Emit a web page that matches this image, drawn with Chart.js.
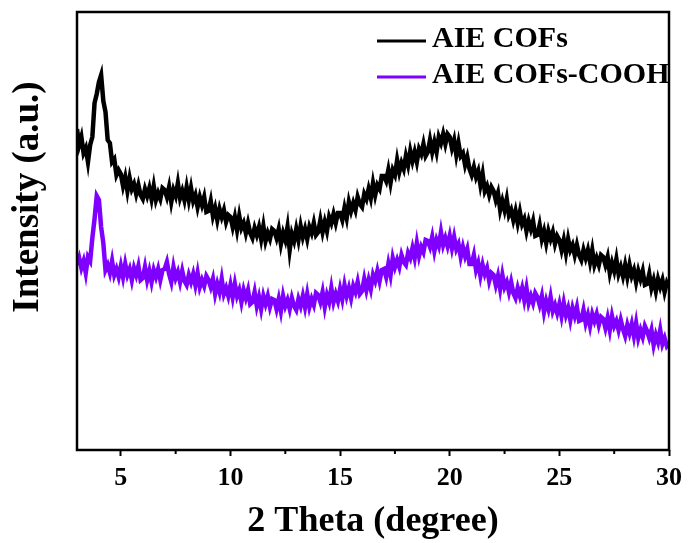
<!DOCTYPE html>
<html>
<head>
<meta charset="utf-8">
<script src="https://cdn.jsdelivr.net/npm/chart.js@4"></script>
<style>
  html, body { margin: 0; padding: 0; background: #ffffff; }
  #wrap { width: 689px; height: 543px; }
</style>
</head>
<body>
<div id="wrap"><canvas id="xrdChart" width="689" height="543"></canvas></div>
<script>
// 2θ 샘플 위치 (deg)
const twoTheta = [
  3.0,3.1,3.2,3.3,3.4,3.5,3.6,3.7,3.8,3.9,
  4.0,4.1,4.2,4.3,4.4,4.5,4.6,4.7,4.8,4.9,
  5.0,5.1,5.2,5.3,5.4,5.5,5.6,5.7,5.8,5.9,
  6.0,6.1,6.2,6.3,6.4,6.5,6.6,6.7,6.8,6.9,
  7.0,7.1,7.2,7.3,7.4,7.5,7.6,7.7,7.8,7.9,
  8.0,8.1,8.2,8.3,8.4,8.5,8.6,8.7,8.8,8.9,
  9.0,9.1,9.2,9.3,9.4,9.5,9.6,9.7,9.8,9.9,
  10.0,10.1,10.2,10.3,10.4,10.5,10.6,10.7,10.8,10.9,
  11.0,11.1,11.2,11.3,11.4,11.5,11.6,11.7,11.8,11.9,
  12.0,12.1,12.2,12.3,12.4,12.5,12.6,12.7,12.8,12.9,
  13.0,13.1,13.2,13.3,13.4,13.5,13.6,13.7,13.8,13.9,
  14.0,14.1,14.2,14.3,14.4,14.5,14.6,14.7,14.8,14.9,
  15.0,15.1,15.2,15.3,15.4,15.5,15.6,15.7,15.8,15.9,
  16.0,16.1,16.2,16.3,16.4,16.5,16.6,16.7,16.8,16.9,
  17.0,17.1,17.2,17.3,17.4,17.5,17.6,17.7,17.8,17.9,
  18.0,18.1,18.2,18.3,18.4,18.5,18.6,18.7,18.8,18.9,
  19.0,19.1,19.2,19.3,19.4,19.5,19.6,19.7,19.8,19.9,
  20.0,20.1,20.2,20.3,20.4,20.5,20.6,20.7,20.8,20.9,
  21.0,21.1,21.2,21.3,21.4,21.5,21.6,21.7,21.8,21.9,
  22.0,22.1,22.2,22.3,22.4,22.5,22.6,22.7,22.8,22.9,
  23.0,23.1,23.2,23.3,23.4,23.5,23.6,23.7,23.8,23.9,
  24.0,24.1,24.2,24.3,24.4,24.5,24.6,24.7,24.8,24.9,
  25.0,25.1,25.2,25.3,25.4,25.5,25.6,25.7,25.8,25.9,
  26.0,26.1,26.2,26.3,26.4,26.5,26.6,26.7,26.8,26.9,
  27.0,27.1,27.2,27.3,27.4,27.5,27.6,27.7,27.8,27.9,
  28.0,28.1,28.2,28.3,28.4,28.5,28.6,28.7,28.8,28.9,
  29.0,29.1,29.2,29.3,29.4,29.5,29.6,29.7,29.8,29.9,
  30.0
];

// AIE COFs 강도 (a.u.)
const aieCofs = [
  321,305,313,297,302,288,305,313,347,356,
  368,375,349,338,310,307,288,291,275,280,
  276,264,273,259,272,261,266,256,265,255,
  251,261,254,262,251,264,250,257,251,262,
  260,253,263,248,260,254,267,252,259,250,
  263,250,262,249,255,243,253,245,253,238,
  239,249,234,242,230,241,233,240,228,235,
  233,223,233,220,234,222,227,217,227,217,
  212,222,215,223,211,224,209,217,211,221,
  219,212,221,206,217,210,223,200,216,209,
  221,210,224,213,221,211,223,217,227,215,
  218,230,218,228,219,233,227,236,227,237,
  237,230,242,232,248,239,247,240,253,246,
  243,256,251,261,252,267,255,265,261,274,
  274,269,280,267,280,275,290,278,287,281,
  294,285,299,289,298,288,301,296,306,294,
  298,310,298,308,298,313,307,316,306,316,
  313,302,310,295,307,294,297,285,293,281,
  275,283,273,279,265,276,259,264,255,263,
  259,250,257,240,249,240,251,235,240,230,
  239,227,238,226,231,219,229,221,229,214,
  215,225,211,219,207,219,211,218,206,214,
  210,200,210,197,211,200,205,195,205,195,
  190,200,192,200,188,200,185,192,185,195,
  193,185,193,177,187,179,191,176,183,174,
  185,173,185,174,180,168,179,171,179,165,
  166,176,162,170,159,171,163,170,158,167,
  162
];

// AIE COFs-COOH 강도 (a.u.)
const aieCofsCooh = [
  185,192,182,189,177,193,189,212,231,254,
  250,223,207,180,185,177,189,175,181,173,
  184,173,186,175,181,170,182,175,184,170,
  172,183,170,179,168,180,173,181,170,180,
  181,188,176,168,183,172,178,168,179,169,
  165,175,168,176,165,177,163,170,164,174,
  170,163,171,156,166,158,171,156,162,154,
  165,153,166,154,160,148,160,152,160,146,
  148,158,144,153,141,154,146,154,143,151,
  150,141,151,139,154,144,150,141,152,144,
  140,151,144,154,143,156,143,151,145,157,
  155,148,158,143,155,148,162,148,156,149,
  161,151,165,154,162,152,164,158,168,156,
  159,171,160,170,161,175,169,179,169,180,
  181,173,186,175,192,183,190,183,195,188,
  185,197,192,202,192,207,194,203,198,210,
  209,203,213,199,210,204,218,205,212,204,
  214,202,213,201,206,193,203,194,201,186,
  186,195,180,187,174,185,176,182,169,177,
  175,165,174,161,175,163,168,158,168,157,
  152,162,154,162,150,162,147,154,147,157,
  153,145,154,138,149,141,153,139,145,137,
  146,134,147,135,142,130,142,134,143,129,
  130,140,127,135,124,136,129,136,125,133,
  131,122,132,120,134,124,129,120,130,121,
  114,125,117,126,114,127,112,120,113,124,
  119,112,120,105,115,108,120,106,112,104,
  107
];

const seriesNames = ['AIE COFs', 'AIE COFs-COOH'];
const seriesColors = ['#000000', '#7f00ff'];
const xMajorTicks = [5, 10, 15, 20, 25, 30];
const xMinorTicks = [7.5, 12.5, 17.5, 22.5, 27.5];

const SERIF = "'Liberation Serif', 'Times New Roman', serif";

function toPoints(values) {
    return values.map((v, i) => ({ x: twoTheta[i], y: v }));
}

// 테두리 + 보조 눈금
const framePlugin = {
    id: 'frame',
    afterDatasetsDraw(chart) {
        const { ctx, chartArea } = chart;
        const xScale = chart.scales.x;
        ctx.save();
        ctx.strokeStyle = '#000';
        ctx.lineWidth = 2.5;
        ctx.strokeRect(chartArea.left, chartArea.top,
            chartArea.right - chartArea.left, chartArea.bottom - chartArea.top);

        ctx.lineWidth = 2;
        xMinorTicks.forEach(v => {
            const px = xScale.getPixelForValue(v);
            ctx.beginPath();
            ctx.moveTo(px, chartArea.bottom);
            ctx.lineTo(px, chartArea.bottom + 4);
            ctx.stroke();
        });
        ctx.restore();
    }
};

// 범례 (그림 안 오른쪽 위)
const legendPlugin = {
    id: 'insideLegend',
    afterDraw(chart) {
        const ctx = chart.ctx;
        ctx.save();
        ctx.font = 'bold 30px ' + SERIF;
        ctx.textBaseline = 'alphabetic';
        ctx.textAlign = 'left';
        chart.data.datasets.forEach((ds, i) => {
            const lineY = 41 + i * 36;
            ctx.strokeStyle = ds.borderColor;
            ctx.lineWidth = 3;
            ctx.beginPath();
            ctx.moveTo(377, lineY);
            ctx.lineTo(426, lineY);
            ctx.stroke();
            ctx.fillStyle = '#000';
            ctx.fillText(ds.label, 432, lineY + 6);
        });
        ctx.restore();
    }
};

// y축 제목 (중심이 조금 위쪽)
const yTitlePlugin = {
    id: 'yTitle',
    afterDraw(chart) {
        const ctx = chart.ctx;
        ctx.save();
        ctx.translate(28, 197);
        ctx.rotate(-Math.PI / 2);
        ctx.font = 'bold 37px ' + SERIF;
        ctx.fillStyle = '#000';
        ctx.textAlign = 'center';
        ctx.textBaseline = 'middle';
        ctx.fillText('Intensity (a.u.)', 0, 0);
        ctx.restore();
    }
};

const ctx = document.getElementById('xrdChart').getContext('2d');
const xrdChart = new Chart(ctx, {
    type: 'line',
    data: {
        datasets: [
            {
                label: seriesNames[0],
                data: toPoints(aieCofs),
                borderColor: seriesColors[0],
                borderWidth: 4.5,
                pointRadius: 0,
                tension: 0,
                fill: false
            },
            {
                label: seriesNames[1],
                data: toPoints(aieCofsCooh),
                borderColor: seriesColors[1],
                borderWidth: 4.5,
                pointRadius: 0,
                tension: 0,
                fill: false
            }
        ]
    },
    options: {
        responsive: false,
        animation: false,
        devicePixelRatio: 1,
        layout: { padding: { top: 12, right: 20, left: 0, bottom: 0 } },
        plugins: {
            legend: { display: false },
            tooltip: { enabled: false }
        },
        scales: {
            x: {
                type: 'linear',
                min: 3,
                max: 30,
                afterBuildTicks: scale => {
                    scale.ticks = xMajorTicks.map(v => ({ value: v }));
                },
                afterFit: scale => { scale.height = 93; },
                ticks: {
                    color: '#000',
                    padding: 7,
                    maxRotation: 0,
                    font: { family: SERIF, size: 26, weight: 'bold' }
                },
                grid: {
                    display: true,
                    drawOnChartArea: false,
                    drawTicks: true,
                    tickLength: 6,
                    tickColor: '#000',
                    tickWidth: 2
                },
                border: { display: false },
                title: {
                    display: true,
                    text: '2 Theta (degree)',
                    color: '#000',
                    padding: { top: 0, bottom: 0 },
                    font: { family: SERIF, size: 36, weight: 'bold' }
                }
            },
            y: {
                min: 0,
                max: 438,
                afterFit: scale => { scale.width = 77; },
                ticks: { display: false },
                grid: { display: false },
                border: { display: false }
            }
        }
    },
    plugins: [framePlugin, legendPlugin, yTitlePlugin]
});
</script>
</body>
</html>
